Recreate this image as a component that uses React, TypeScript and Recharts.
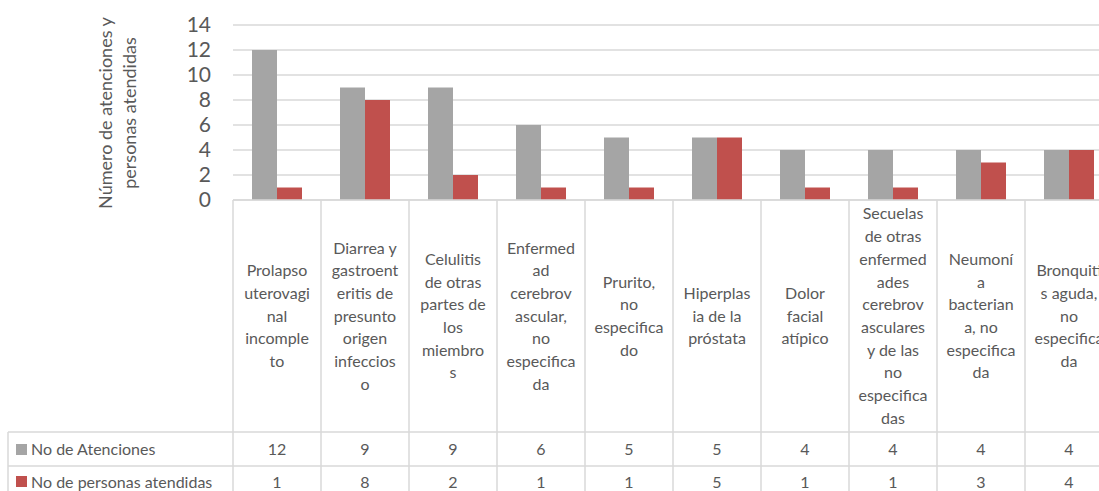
import { Bar, BarChart, CartesianGrid, Customized, XAxis, YAxis } from "recharts";

const categories = [
  "Prolapso uterovaginal incompleto",
  "Diarrea y gastroenteritis de presunto origen infeccioso",
  "Celulitis de otras partes de los miembros",
  "Enfermedad cerebrovascular, no especificada",
  "Prurito, no especificado",
  "Hiperplasia de la próstata",
  "Dolor facial atípico",
  "Secuelas de otras enfermedades cerebrovasculares y de las no especificadas",
  "Neumonía bacteriana, no especificada",
  "Bronquitis aguda, no especificada",
];

const labelLines = [
  ["Prolapso", "uterovagi", "nal", "incomple", "to"],
  ["Diarrea y", "gastroent", "eritis de", "presunto", "origen", "infeccios", "o"],
  ["Celulitis", "de otras", "partes de", "los", "miembro", "s"],
  ["Enfermed", "ad", "cerebrov", "ascular,", "no", "especifica", "da"],
  ["Prurito,", "no", "especifica", "do"],
  ["Hiperplas", "ia de la", "próstata"],
  ["Dolor", "facial", "atípico"],
  ["Secuelas", "de otras", "enfermed", "ades", "cerebrov", "asculares", "y de las", "no", "especifica", "das"],
  ["Neumoní", "a", "bacterian", "a, no", "especifica", "da"],
  ["Bronquiti", "s aguda,", "no", "especifica", "da"],
];

const atenciones = [12, 9, 9, 6, 5, 5, 4, 4, 4, 4];
const personas = [1, 8, 2, 1, 1, 5, 1, 1, 3, 4];
const yTicks = [0, 2, 4, 6, 8, 10, 12, 14];

const seriesNames = ["No de Atenciones", "No de personas atendidas"];

const GRAY = "#A5A5A5";
const RED = "#C0504D";
const LINE = "#D9D9D9";
const TEXT = "#595959";
const FONT = "Lato, 'Open Sans', sans-serif";

const BAND = 88;
const AXIS_Y = 200;
const ROW1 = 432;
const ROW2 = 466;
const LH = 22.7;

const data = categories.map((name, i) => ({
  name,
  atenciones: atenciones[i],
  personas: personas[i],
}));

function CategoryCell(props: any) {
  const { x, payload } = props;
  const i = payload.index;
  const left = x - BAND / 2;
  const right = x + BAND / 2;
  const lines = labelLines[i];
  const mid = (AXIS_Y + ROW1) / 2;
  const startY = mid - ((lines.length - 1) * LH) / 2;
  return (
    <g>
      <line x1={left} y1={AXIS_Y} x2={right} y2={AXIS_Y} stroke={LINE} strokeWidth={1.5} />
      <line x1={right} y1={AXIS_Y} x2={right} y2={520} stroke={LINE} strokeWidth={1.5} />
      {i === 0 && <line x1={left} y1={AXIS_Y} x2={left} y2={520} stroke={LINE} strokeWidth={1.5} />}
      <text textAnchor="middle" fill={TEXT} fontSize={16} fontFamily={FONT}>
        {lines.map((l, k) => (
          <tspan key={k} x={x} y={startY + k * LH} dy="0.35em">
            {l}
          </tspan>
        ))}
      </text>
      <text x={x} y={(ROW1 + ROW2) / 2} dy="0.35em" textAnchor="middle" fill={TEXT} fontSize={16} fontFamily={FONT}>
        {atenciones[i]}
      </text>
      <text x={x} y={ROW2 + 16} dy="0.35em" textAnchor="middle" fill={TEXT} fontSize={16} fontFamily={FONT}>
        {personas[i]}
      </text>
    </g>
  );
}

function TableFrame() {
  return (
    <g>
      <line x1={8} y1={ROW1} x2={1120} y2={ROW1} stroke={LINE} strokeWidth={1.5} />
      <line x1={8} y1={ROW2} x2={1120} y2={ROW2} stroke={LINE} strokeWidth={1.5} />
      <line x1={8} y1={ROW1} x2={8} y2={520} stroke={LINE} strokeWidth={1.5} />
      <rect x={16} y={444} width={11} height={11} fill={GRAY} />
      <text x={31} y={(ROW1 + ROW2) / 2} dy="0.35em" fill={TEXT} fontSize={16} fontFamily={FONT}>
        {seriesNames[0]}
      </text>
      <rect x={16} y={476} width={11} height={11} fill={RED} />
      <text x={31} y={ROW2 + 16} dy="0.35em" fill={TEXT} fontSize={16} fontFamily={FONT}>
        {seriesNames[1]}
      </text>
      <text transform="translate(112,113) rotate(-90)" textAnchor="middle" fill={TEXT} fontSize={18} fontFamily={FONT}>
        Número de atenciones y
      </text>
      <text transform="translate(136,113) rotate(-90)" textAnchor="middle" fill={TEXT} fontSize={18} fontFamily={FONT}>
        personas atendidas
      </text>
    </g>
  );
}

export default function App() {
  return (
    <div style={{ position: "absolute", left: 0, top: 0, width: 1099, height: 491, overflow: "hidden", background: "#fff" }}>
      <BarChart width={1120} height={510} data={data} margin={{ top: 25, right: 7, bottom: 0, left: 0 }} barGap={0}>
        <CartesianGrid stroke={LINE} strokeWidth={1.5} vertical={false} />
        <XAxis dataKey="name" interval={0} height={310} axisLine={false} tickLine={false} tickSize={0} tick={<CategoryCell />} />
        <YAxis
          width={233}
          domain={[0, 14]}
          ticks={yTicks}
          interval={0}
          axisLine={false}
          tickLine={false}
          tickSize={0}
          tickMargin={22}
          tick={{ fill: TEXT, fontSize: 21, fontFamily: FONT }}
        />
        <Bar dataKey="atenciones" name={seriesNames[0]} fill={GRAY} barSize={25} isAnimationActive={false} />
        <Bar dataKey="personas" name={seriesNames[1]} fill={RED} barSize={25} isAnimationActive={false} />
        <Customized component={<TableFrame />} />
      </BarChart>
    </div>
  );
}
